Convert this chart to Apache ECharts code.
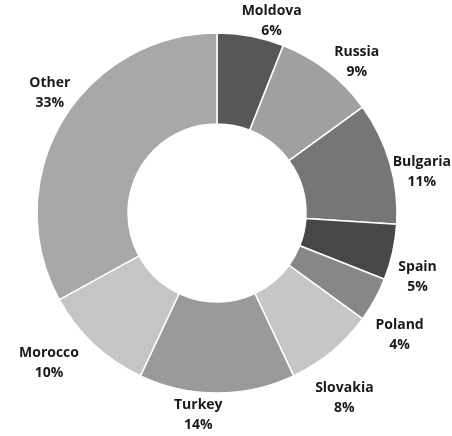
<!DOCTYPE html>
<html>
<head>
<meta charset="utf-8">
<script src="https://cdn.jsdelivr.net/npm/echarts@6/dist/echarts.min.js"></script>
<style>
html,body{margin:0;padding:0;background:#fff;}
#chart{width:452px;height:436px;}
</style>
</head>
<body>
<div id="chart"></div>
<script>
var categories = ['Moldova', 'Russia', 'Bulgaria', 'Spain', 'Poland', 'Slovakia', 'Turkey', 'Morocco', 'Other'];
var shares = [6, 9, 11, 5, 4, 8, 14, 10, 33];
var sliceColors = ['#575757', '#a0a0a0', '#767676', '#474747', '#878787', '#c6c6c6', '#9a9a9a', '#c5c5c5', '#a8a8a8'];

var W = 452, H = 436;
var CX = 217, CY = 213, R_OUT = 180, R_IN = 89;
var total = shares.reduce(function (a, b) { return a + b; }, 0);
var starts = [];
(function () { var s = 0; for (var i = 0; i < shares.length; i++) { starts.push(s); s += shares[i]; } })();

var chart = echarts.init(document.getElementById('chart'), null, { renderer: 'canvas' });
chart.setOption({
  backgroundColor: '#ffffff',
  animation: false,
  series: [{
    type: 'pie',
    center: [CX, CY],
    radius: [R_IN, R_OUT],
    startAngle: 90,
    clockwise: true,
    avoidLabelOverlap: false,
    itemStyle: { borderColor: '#ffffff', borderWidth: 1.5 },
    label: {
      show: true,
      position: 'outside',
      formatter: '{b}\n{c}%',
      fontFamily: '"Open Sans", sans-serif',
      fontWeight: 'bold',
      fontSize: 14,
      lineHeight: 20,
      color: '#1a1a1a',
      align: 'center'
    },
    labelLine: { show: false },
    labelLayout: function (p) {
      var i = p.dataIndex;
      var th = ((starts[i] + shares[i] / 2) / total * 360 + 5) * Math.PI / 180;
      var w = p.labelRect.width, h = p.labelRect.height;
      var s = Math.sin(th), c = Math.cos(th);
      var d = R_OUT + Math.abs(s) * w / 2 + Math.abs(c) * h / 2 + 3 - 10 * c;
      var x = CX + d * s, y = CY - d * c;
      x = Math.max(w / 2 + 1, Math.min(W - w / 2 - 1, x));
      y = Math.max(h / 2 + 1, Math.min(H - h / 2 - 1, y));
      return { x: x, y: y, align: 'center', verticalAlign: 'middle' };
    },
    data: categories.map(function (n, i) {
      return { name: n, value: shares[i], itemStyle: { color: sliceColors[i] } };
    })
  }]
});
</script>
</body>
</html>
